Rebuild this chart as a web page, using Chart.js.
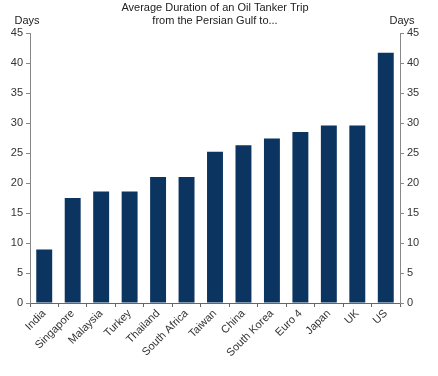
<!DOCTYPE html>
<html><head><meta charset="utf-8">
<script src="https://cdn.jsdelivr.net/npm/chart.js@4/dist/chart.umd.min.js"></script>
<style>html,body{margin:0;padding:0;background:#fff}#wrap{width:438px;height:376px}</style>
</head><body><div id="wrap"><canvas id="c" width="438" height="376"></canvas></div>
<script>
const categories = ["India","Singapore","Malaysia","Turkey","Thailand","South Africa","Taiwan","China","South Korea","Euro 4","Japan","UK","US"];
const days = [8.9, 17.5, 18.6, 18.6, 21.0, 21.0, 25.2, 26.3, 27.4, 28.5, 29.6, 29.6, 41.7];
const titleLines = ["Average Duration of an Oil Tanker Trip", "from the Persian Gulf to..."];
const axisUnit = "Days";

const FONT = "'Liberation Sans', Arial, sans-serif";
const textPlugin = {
  id: 'texts',
  afterDraw(chart) {
    const ctx = chart.ctx;
    ctx.save();
    ctx.fillStyle = '#222';
    ctx.font = '11px ' + FONT;
    ctx.textAlign = 'center';
    ctx.textBaseline = 'alphabetic';
    ctx.fillText(titleLines[0], 215, 11);
    ctx.fillText(titleLines[1], 215, 24);
    ctx.fillText(axisUnit, 27, 24);
    ctx.fillText(axisUnit, 402, 24);
    ctx.restore();
  }
};

new Chart(document.getElementById('c'), {
  type: 'bar',
  data: { labels: categories, datasets: [{ data: days, backgroundColor: '#0b3560', categoryPercentage: 1, barPercentage: 0.56, yAxisID: 'y' }] },
  options: {
    responsive: false, animation: false,
    layout: { padding: { top: 33, left: 0, right: 0, bottom: 0 } },
    plugins: { legend: { display: false }, tooltip: { enabled: false }, title: { display: false } },
    scales: {
      x: {
        grid: { display: true, drawOnChartArea: false, drawTicks: true, tickLength: 4, color: '#666', offset: true },
        border: { display: true, color: '#666', width: 1 },
        ticks: { color: '#333', font: { family: FONT, size: 11 }, minRotation: 45, maxRotation: 45, padding: 0, autoSkip: false },
        afterFit(s) { s.height = 73; }
      },
      y: {
        position: 'left', min: 0, max: 45,
        grid: { display: true, drawOnChartArea: false, drawTicks: true, tickLength: 4, color: '#888' },
        border: { display: true, color: '#888', width: 1 },
        ticks: { stepSize: 5, color: '#333', font: { family: FONT, size: 11 }, padding: 3 },
        afterFit(s) { s.width = 30; }
      },
      y2: {
        position: 'right', min: 0, max: 45,
        grid: { display: true, drawOnChartArea: false, drawTicks: true, tickLength: 4, color: '#888' },
        border: { display: true, color: '#888', width: 1 },
        ticks: { stepSize: 5, color: '#333', font: { family: FONT, size: 11 }, padding: 3 },
        afterFit(s) { s.width = 38; }
      }
    }
  },
  plugins: [textPlugin]
});
</script></body></html>
